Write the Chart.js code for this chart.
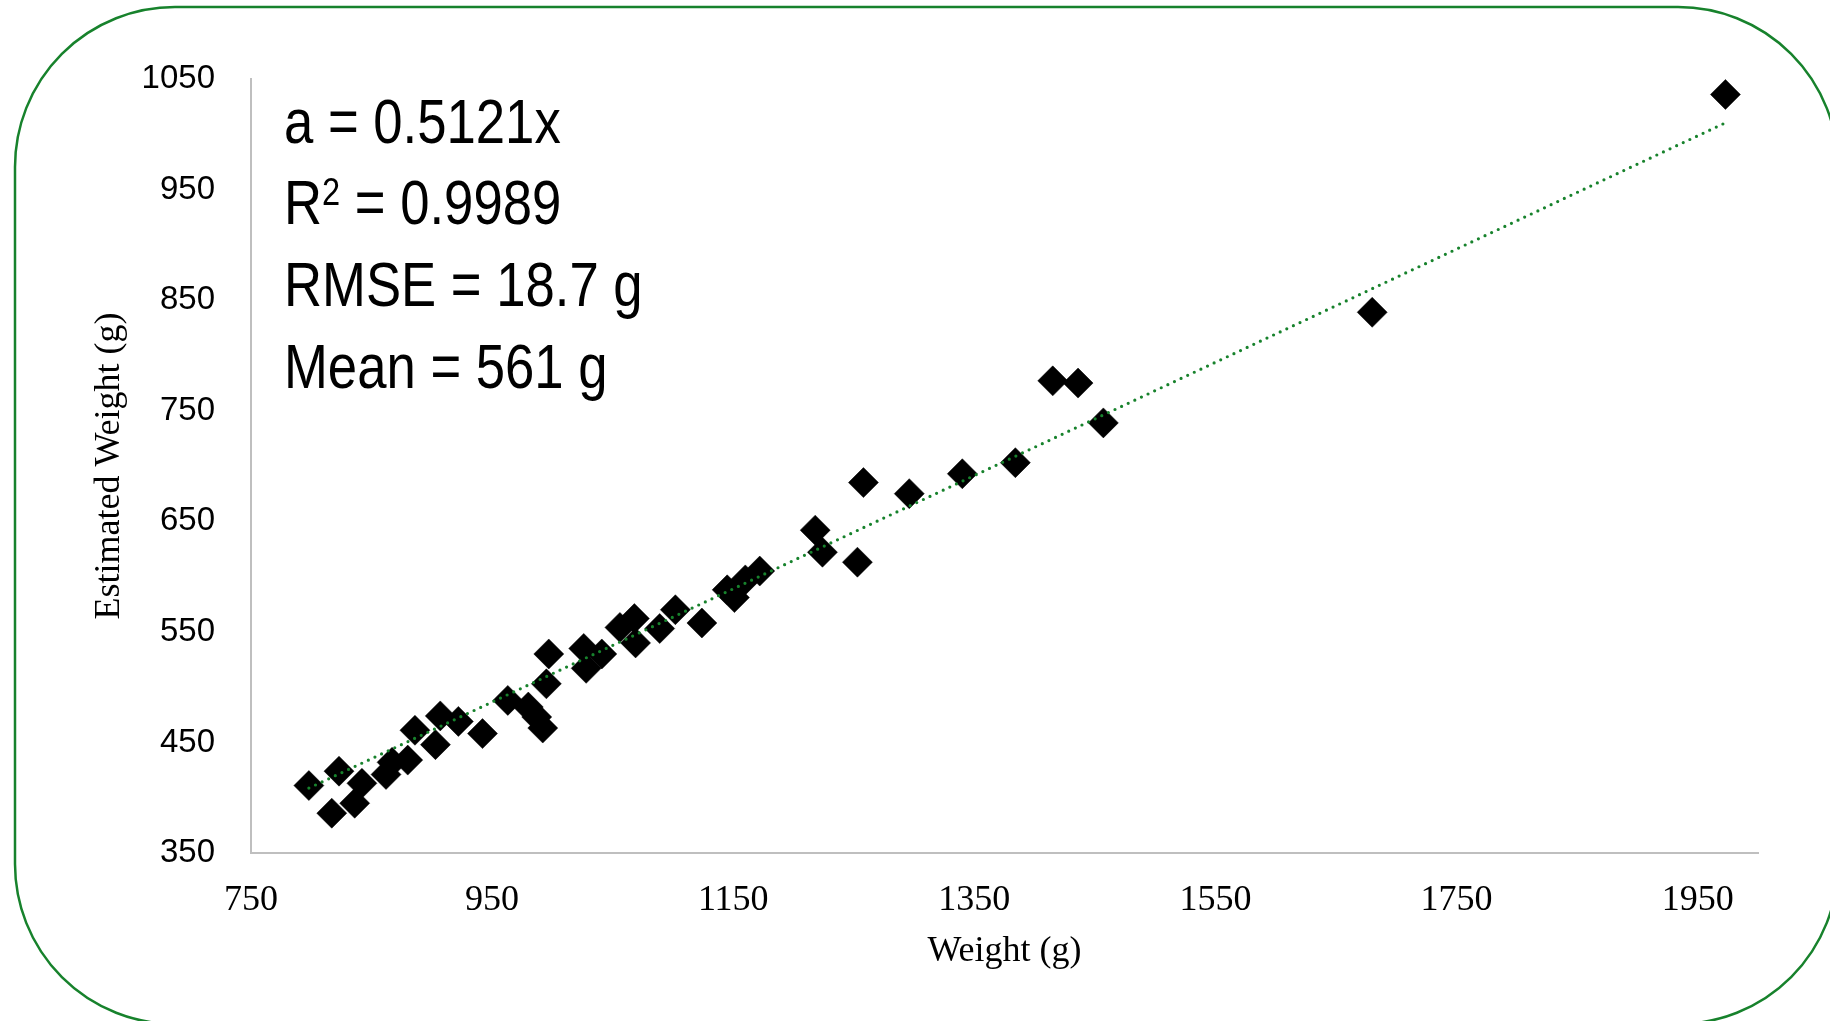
<!DOCTYPE html>
<html>
<head>
<meta charset="utf-8">
<script src="https://cdn.jsdelivr.net/npm/chart.js@4.4.1/dist/chart.umd.min.js"></script>
<style>
  html, body { margin: 0; padding: 0; background: #fff; }
  canvas { display: block; }
</style>
</head>
<body>
<canvas id="weightChart" width="1830" height="1021"></canvas>
<script>
const weightX = [798, 817, 823, 836, 842, 862, 867, 880, 886, 903, 907, 922, 942, 963, 980, 987, 992, 995, 997,
    1026, 1028, 1041, 1056, 1068, 1069, 1089, 1102, 1124, 1145, 1151, 1160, 1172, 1218, 1224, 1253, 1258,
    1296, 1340, 1384, 1415, 1436, 1457, 1680, 1973];
const estimatedY = [411, 386, 424, 395, 413, 421, 432, 434, 461, 448, 474, 469, 458, 488, 482, 473, 463, 503, 530,
    535, 517, 530, 554, 562, 540, 553, 570, 558, 588, 581, 597, 605, 642, 622, 613, 685,
    675, 693, 703, 777, 775, 739, 839, 1036];

// end points of the dotted trend line
const trendX = [798, 1973];
const trendY = [408.7, 1010.4];

const xTicks = [750, 950, 1150, 1350, 1550, 1750, 1950];
const yTicks = [350, 450, 550, 650, 750, 850, 950, 1050];

const statLines = ["a = 0.5121x", "R2 = 0.9989", "RMSE = 18.7 g", "Mean = 561 g"];

const green = "#17822c";
const narrow = 0.836;

// rounded frame round the whole figure
const framePlugin = {
    id: "frame",
    beforeDraw(chart) {
        const ctx = chart.ctx;
        ctx.save();
        ctx.fillStyle = "#fff";
        ctx.fillRect(0, 0, chart.width, chart.height);
        const l = 15, t = 7, r = 1838, b = 1024, rad = 160;
        ctx.beginPath();
        ctx.moveTo(l + rad, t);
        ctx.arcTo(r, t, r, b, rad);
        ctx.arcTo(r, b, l, b, rad);
        ctx.arcTo(l, b, l, t, rad);
        ctx.arcTo(l, t, r, t, rad);
        ctx.closePath();
        ctx.strokeStyle = green;
        ctx.lineWidth = 2.5;
        ctx.stroke();
        ctx.restore();
    }
};

// statistics block, condensed sans like the original
const statsPlugin = {
    id: "stats",
    afterDraw(chart) {
        const ctx = chart.ctx;
        const x0 = 284;
        const base = [143, 224, 306, 388];
        ctx.save();
        ctx.fillStyle = "#000";
        ctx.textBaseline = "alphabetic";
        statLines.forEach((txt, i) => {
            ctx.save();
            ctx.translate(x0, base[i]);
            ctx.scale(narrow, 1);
            ctx.font = "63px 'Liberation Sans', Arial, sans-serif";
            if (txt.startsWith("R2")) {
                ctx.fillText("R", 0, 0);
                let w = ctx.measureText("R").width;
                ctx.font = "39px 'Liberation Sans', Arial, sans-serif";
                ctx.fillText("2", w, -19);
                w += ctx.measureText("2").width;
                ctx.font = "63px 'Liberation Sans', Arial, sans-serif";
                ctx.fillText(txt.slice(2), w, 0);
            } else {
                ctx.fillText(txt, 0, 0);
            }
            ctx.restore();
        });
        ctx.restore();
    }
};

const points = weightX.map((x, i) => ({ x: x, y: estimatedY[i] }));
const trend = trendX.map((x, i) => ({ x: x, y: trendY[i] }));

new Chart(document.getElementById("weightChart"), {
    type: "scatter",
    data: {
        datasets: [
            {
                label: "trend",
                data: trend,
                showLine: true,
                order: 0,
                borderColor: green,
                borderWidth: 3.2,
                borderDash: [0, 7.3],
                borderCapStyle: "round",
                pointRadius: 0,
                fill: false
            },
            {
                label: "Estimated",
                data: points,
                order: 1,
                pointStyle: "rectRot",
                pointRadius: 15,
                backgroundColor: "#000",
                borderColor: "#000",
                borderWidth: 0.5
            }
        ]
    },
    options: {
        responsive: false,
        animation: false,
        devicePixelRatio: 1,
        layout: { padding: { left: 0, top: 79, right: 72, bottom: 0 } },
        plugins: {
            legend: { display: false },
            tooltip: { enabled: false }
        },
        scales: {
            x: {
                type: "linear",
                min: 750,
                max: 2000,
                afterBuildTicks: (s) => { s.ticks = xTicks.map(v => ({ value: v })); },
                afterFit: (s) => { s.height = 168; },
                grid: { display: false, drawTicks: false },
                border: { display: true, color: "#bfbfbf", width: 2 },
                ticks: {
                    padding: 26,
                    color: "#000",
                    maxRotation: 0,
                    callback: (v) => String(v),
                    font: { family: "'Liberation Serif', 'Times New Roman', serif", size: 36 }
                },
                title: {
                    display: true,
                    text: "Weight (g)",
                    color: "#000",
                    padding: { top: 0, bottom: 48 },
                    font: { family: "'Liberation Serif', 'Times New Roman', serif", size: 36 }
                }
            },
            y: {
                type: "linear",
                min: 350,
                max: 1050,
                afterBuildTicks: (s) => { s.ticks = yTicks.map(v => ({ value: v })); },
                afterFit: (s) => { s.width = 251; },
                grid: { display: false, drawTicks: false },
                border: { display: true, color: "#bfbfbf", width: 2 },
                ticks: {
                    padding: 36,
                    color: "#000",
                    callback: (v) => String(v),
                    font: { family: "'Liberation Sans', Arial, sans-serif", size: 33 }
                },
                title: {
                    display: true,
                    text: "Estimated Weight (g)",
                    color: "#000",
                    padding: { top: 88, bottom: 0 },
                    font: { family: "'Liberation Serif', 'Times New Roman', serif", size: 36 }
                }
            }
        }
    },
    plugins: [framePlugin, statsPlugin]
});
</script>
</body>
</html>
